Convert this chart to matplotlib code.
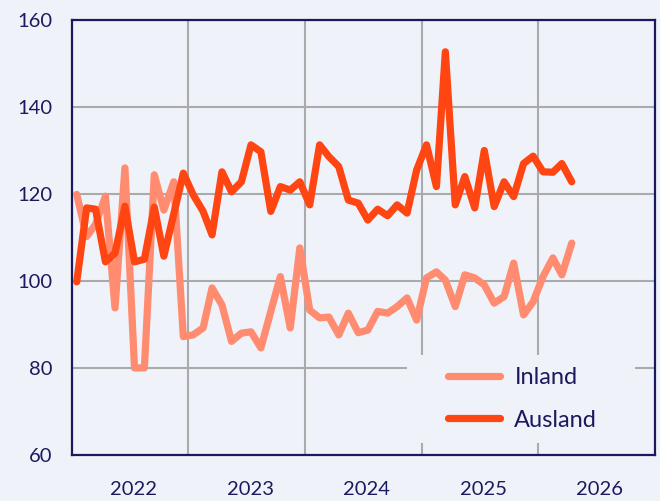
import numpy as np
import pandas as pd
import matplotlib.pyplot as plt
from matplotlib.patches import Rectangle

BG = '#eff3f9'
NAVY = '#1c1a5e'
GRID = '#aaaaaa'

# Monatswerte, Januar 2022 bis April 2026
months = pd.date_range('2022-01-01', periods=52, freq='MS')

inland = [119.9, 110.2, 113.0, 119.5, 93.8, 126.0, 80.0, 80.0, 124.4, 116.3,
          122.8, 87.2, 87.6, 89.2, 98.4, 94.5, 86.1, 88.0, 88.3, 84.6,
          93.0, 101.0, 89.2, 107.6, 93.3, 91.5, 91.7, 87.6, 92.6, 88.1,
          88.7, 93.0, 92.6, 94.1, 96.1, 91.0, 100.7, 102.1, 100.2, 94.1,
          101.4, 100.7, 99.1, 94.9, 96.4, 104.1, 92.2, 95.2, 101.0, 105.3,
          101.4, 108.7]

ausland = [99.8, 116.8, 116.5, 104.4, 106.4, 117.2, 104.4, 105.0, 117.0, 105.7,
           115.4, 124.8, 119.8, 116.0, 110.6, 125.1, 120.5, 122.8, 131.3, 129.7,
           116.0, 121.7, 120.9, 122.8, 117.5, 131.3, 128.6, 126.3, 118.6, 117.9,
           114.0, 116.5, 115.0, 117.5, 115.6, 125.5, 131.3, 121.7, 152.7, 117.5,
           124.0, 116.8, 130.0, 117.1, 122.8, 119.4, 127.0, 128.7, 125.1, 125.0,
           127.0, 122.8]

years = [2022, 2023, 2024, 2025, 2026]

plt.rcParams['font.family'] = ['Lato', 'DejaVu Sans']

fig = plt.figure(figsize=(6.6, 5.01), dpi=100, facecolor=BG)
ax = fig.add_axes([0.109, 0.092, 0.883, 0.868])
ax.set_facecolor(BG)

x = months + pd.Timedelta(days=15)
ax.plot(x, inland, color='#ff8c70', linewidth=5.2, solid_capstyle='round',
        solid_joinstyle='round', label='Inland', zorder=3)
ax.plot(x, ausland, color='#ff4512', linewidth=5.2, solid_capstyle='round',
        solid_joinstyle='round', label='Ausland', zorder=4)

ax.set_xlim(pd.Timestamp('2022-01-01'), pd.Timestamp('2027-01-01'))
ax.set_ylim(60, 160)

# Gitter an den Jahresgrenzen, Beschriftung in der Jahresmitte
ax.set_xticks([pd.Timestamp(f'{y + 1}-01-01') for y in years[:-1]])
ax.set_xticklabels([])
ax.set_xticks([pd.Timestamp(f'{y}-07-13') for y in years], minor=True)
ax.set_xticklabels([str(y) for y in years], minor=True)
ax.set_yticks(np.arange(60, 161, 20))

ax.grid(True, which='major', color=GRID, linewidth=1.5)
ax.set_axisbelow(True)
ax.tick_params(which='both', length=0, colors=NAVY, labelsize=14.5)
ax.tick_params(axis='x', which='minor', pad=19)
ax.tick_params(axis='y', pad=14)
for s in ax.spines.values():
    s.set_color(NAVY)
    s.set_linewidth(1.6)

# Hintergrundfläche der Legende verdeckt das Gitter
ax.add_patch(Rectangle((0.575, 0.028), 0.391, 0.202, transform=ax.transAxes,
                       facecolor=BG, edgecolor='none', zorder=2))

leg = ax.legend(loc='upper left', bbox_to_anchor=(0.645, 0.201), fontsize=17,
                frameon=False, handlelength=2.2, handletextpad=0.62,
                labelspacing=0.9, borderpad=0, borderaxespad=0)
for t in leg.get_texts():
    t.set_color(NAVY)
for h in leg.get_lines():
    h.set_solid_capstyle('round')
    h.set_linewidth(5.2)

fig.savefig('out.png', dpi=100, facecolor=BG)
